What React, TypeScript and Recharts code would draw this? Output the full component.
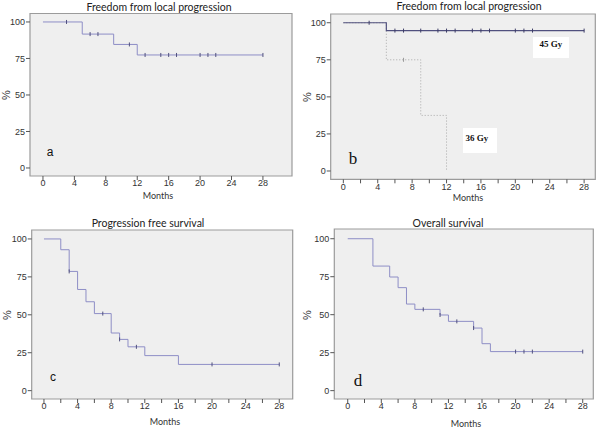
import React from "react"
import {
  ComposedChart,
  Line,
  Scatter,
  XAxis,
  YAxis,
  CartesianGrid,
  ReferenceArea,
} from "recharts"

// ── data ──────────────────────────────────────────────────────────────────────

const MAJOR_TICKS = [0, 4, 8, 12, 16, 20, 24, 28]
const MINOR_TICKS = [0, 2, 4, 6, 8, 10, 12, 14, 16, 18, 20, 22, 24, 26, 28]
const PCT_TICKS = [0, 25, 50, 75, 100]

// a: freedom from local progression
const A_TIME = [0, 5, 9, 12, 28]
const A_SURV = [100, 91.7, 84.6, 77.4, 77.4]
const A_CENS = [3, 6, 7, 11, 13, 15, 16, 17, 20, 21, 22, 28]

// b: by dose
const B45_TIME = [0, 5, 28]
const B45_SURV = [100, 94.7, 94.7]
const B45_CENS = [3, 6, 7, 9, 11, 12, 13, 15, 16, 17, 20, 21, 22, 28]
const B36_TIME = [0, 5, 9, 12]
const B36_SURV = [100, 75, 37.5, 0]
const B36_CENS = [7]

// c: progression free survival
const C_TIME = [0, 2, 3, 4, 5, 6, 8, 9, 10, 12, 16, 28]
const C_SURV = [100, 92.9, 78.6, 66.7, 58.6, 50.8, 38.0, 33.8, 28.9, 23.1, 17.3, 17.3]
const C_CENS = [3, 7, 9, 11, 20, 28]

// d: overall survival
const D_TIME = [0, 3, 5, 6, 7, 8, 11, 12, 15, 16, 17, 28]
const D_SURV = [100, 82, 74.8, 67.8, 57, 53.5, 49.8, 45.6, 41.2, 30.9, 25.7, 25.7]
const D_CENS = [9, 11, 13, 15, 20, 21, 22, 28]

// ── helpers ───────────────────────────────────────────────────────────────────

const steps = (times: number[], surv: number[]) => times.map((t, i) => ({ t, s: surv[i] }))

function stepAt(times: number[], surv: number[], t: number) {
  let v = surv[0]
  for (let i = 0; i < times.length; i++) if (times[i] <= t) v = surv[i]
  return v
}

const censored = (times: number[], surv: number[], cens: number[]) =>
  cens.map(t => ({ t, s: stepAt(times, surv, t) }))

const LINE = "#8e8ec6"
const DARK = "#50507e"
const FRAME = "#9b9b9b"
const BG = "#efefef"
const TICK_FONT = { fill: "#333", fontSize: 9, fontFamily: "Liberation Sans, sans-serif" }

const censorShape = (color: string) => (p: any) => (
  <line x1={p.cx} x2={p.cx} y1={p.cy - 2} y2={p.cy + 2} stroke={color} strokeWidth={1} />
)

type Series = {
  times: number[]
  surv: number[]
  cens: number[]
  color: string
  censColor: string
  dash?: string
  width?: number
}

type PanelProps = {
  left: number
  top: number
  frame: { l: number; t: number; r: number; b: number }
  xDomain: [number, number]
  yDomain: [number, number]
  xTicks: number[]
  series: Series[]
}

function Panel({ left, top, frame, xDomain, yDomain, xTicks, series }: PanelProps) {
  const W = 300
  const H = 214
  return (
    <div style={{ position: "absolute", left, top, width: W, height: H }}>
      <ComposedChart
        width={W}
        height={H}
        margin={{ top: frame.t, right: W - frame.r, bottom: 0, left: 0 }}
      >
        <CartesianGrid fill={BG} horizontal={false} vertical={false} />
        <ReferenceArea
          x1={xDomain[0]}
          x2={xDomain[1]}
          y1={yDomain[0]}
          y2={yDomain[1]}
          fill="none"
          stroke={FRAME}
          strokeWidth={1.2}
        />
        <XAxis
          type="number"
          dataKey="t"
          domain={xDomain}
          ticks={xTicks}
          interval={0}
          allowDataOverflow
          height={H - frame.b}
          axisLine={false}
          tickLine={{ stroke: "#555" }}
          tickSize={4}
          tickMargin={0}
          tick={TICK_FONT}
          tickFormatter={v => (v % 4 === 0 ? String(v) : "")}
        />
        <YAxis
          type="number"
          dataKey="s"
          domain={yDomain}
          ticks={PCT_TICKS}
          allowDataOverflow
          width={frame.l}
          axisLine={false}
          tickLine={{ stroke: "#555" }}
          tickSize={4}
          tickMargin={1}
          tick={TICK_FONT}
        />
        {series.map((s, i) => (
          <Line
            key={"l" + i}
            data={steps(s.times, s.surv)}
            dataKey="s"
            type="stepAfter"
            stroke={s.color}
            strokeWidth={s.width ?? 1}
            strokeDasharray={s.dash}
            dot={false}
            isAnimationActive={false}
          />
        ))}
        {series.map((s, i) => (
          <Scatter
            key={"c" + i}
            data={censored(s.times, s.surv, s.cens)}
            dataKey="s"
            shape={censorShape(s.censColor)}
            isAnimationActive={false}
          />
        ))}
      </ComposedChart>
    </div>
  )
}

const Txt = ({ x, y, children, style }: { x: number; y: number; children: React.ReactNode; style?: React.CSSProperties }) => (
  <div
    style={{
      position: "absolute",
      left: x,
      top: y,
      transform: "translate(-50%, -50%)",
      whiteSpace: "nowrap",
      lineHeight: 1,
      ...style,
    }}
  >
    {children}
  </div>
)

const titleStyle: React.CSSProperties = { fontFamily: "Lato, sans-serif", fontSize: 10.5, color: "#222" }
const monthsStyle: React.CSSProperties = { fontFamily: "Lato, sans-serif", fontSize: 9, color: "#333" }
const pctStyle: React.CSSProperties = {
  fontFamily: "Liberation Sans, sans-serif",
  fontSize: 11,
  color: "#333",
  transform: "translate(-50%, -50%) rotate(-90deg)",
}
const sansLetter: React.CSSProperties = { fontFamily: "Liberation Sans, sans-serif", fontSize: 12, color: "#111" }
const serifLetter: React.CSSProperties = { fontFamily: "Liberation Serif, serif", fontSize: 17, color: "#111" }
const doseStyle: React.CSSProperties = { fontFamily: "Liberation Serif, serif", fontSize: 9, fontWeight: "bold", color: "#111" }

export default function App() {
  return (
    <div style={{ position: "absolute", left: 0, top: 0, width: 600, height: 428, background: "#fff", overflow: "hidden" }}>
      <Panel
        left={0}
        top={0}
        frame={{ l: 30, t: 13.5, r: 292, b: 176 }}
        xDomain={[-1.65, 31.7]}
        yDomain={[-5.5, 105.8]}
        xTicks={MAJOR_TICKS}
        series={[{ times: A_TIME, surv: A_SURV, cens: A_CENS, color: LINE, censColor: DARK }]}
      />
      <Panel
        left={300}
        top={0}
        frame={{ l: 30.7, t: 14, r: 295.3, b: 179.3 }}
        xDomain={[-1.47, 29.3]}
        yDomain={[-5.6, 105.9]}
        xTicks={MINOR_TICKS}
        series={[
          { times: B36_TIME, surv: B36_SURV, cens: B36_CENS, color: "#a8a8a8", censColor: "#999", dash: "1 2" },
          { times: B45_TIME, surv: B45_SURV, cens: B45_CENS, color: DARK, censColor: "#3c3c66", width: 1.2 },
        ]}
      />
      <Panel
        left={0}
        top={214}
        frame={{ l: 31.7, t: 16, r: 292.7, b: 185 }}
        xDomain={[-1.46, 29.6]}
        yDomain={[-5.5, 105.9]}
        xTicks={MINOR_TICKS}
        series={[{ times: C_TIME, surv: C_SURV, cens: C_CENS, color: LINE, censColor: DARK }]}
      />
      <Panel
        left={300}
        top={214}
        frame={{ l: 34.3, t: 15, r: 293.3, b: 185 }}
        xDomain={[-1.6, 29.26]}
        yDomain={[-5.5, 106.4]}
        xTicks={MINOR_TICKS}
        series={[{ times: D_TIME, surv: D_SURV, cens: D_CENS, color: LINE, censColor: DARK }]}
      />

      {/* titles */}
      <Txt x={159} y={6.5} style={titleStyle}>Freedom from local progression</Txt>
      <Txt x={469} y={6} style={titleStyle}>Freedom from local progression</Txt>
      <Txt x={148} y={223} style={titleStyle}>Progression free survival</Txt>
      <Txt x={448} y={223} style={titleStyle}>Overall survival</Txt>

      {/* axis titles */}
      <Txt x={158} y={195} style={monthsStyle}>Months</Txt>
      <Txt x={468} y={197} style={monthsStyle}>Months</Txt>
      <Txt x={165} y={421} style={monthsStyle}>Months</Txt>
      <Txt x={466} y={423} style={monthsStyle}>Months</Txt>
      <Txt x={6} y={95} style={pctStyle}>%</Txt>
      <Txt x={307} y={97} style={pctStyle}>%</Txt>
      <Txt x={7} y={315} style={pctStyle}>%</Txt>
      <Txt x={307} y={315} style={pctStyle}>%</Txt>

      {/* panel letters */}
      <Txt x={50} y={152} style={sansLetter}>a</Txt>
      <Txt x={353} y={158} style={serifLetter}>b</Txt>
      <Txt x={53} y={377} style={sansLetter}>c</Txt>
      <Txt x={358} y={380} style={serifLetter}>d</Txt>

      {/* dose labels */}
      <div style={{ position: "absolute", left: 533, top: 37, width: 36, height: 21, background: "#fff" }} />
      <Txt x={551} y={44} style={doseStyle}>45 Gy</Txt>
      <div style={{ position: "absolute", left: 463, top: 128, width: 34, height: 25, background: "#fff" }} />
      <Txt x={477} y={138} style={doseStyle}>36 Gy</Txt>
    </div>
  )
}
